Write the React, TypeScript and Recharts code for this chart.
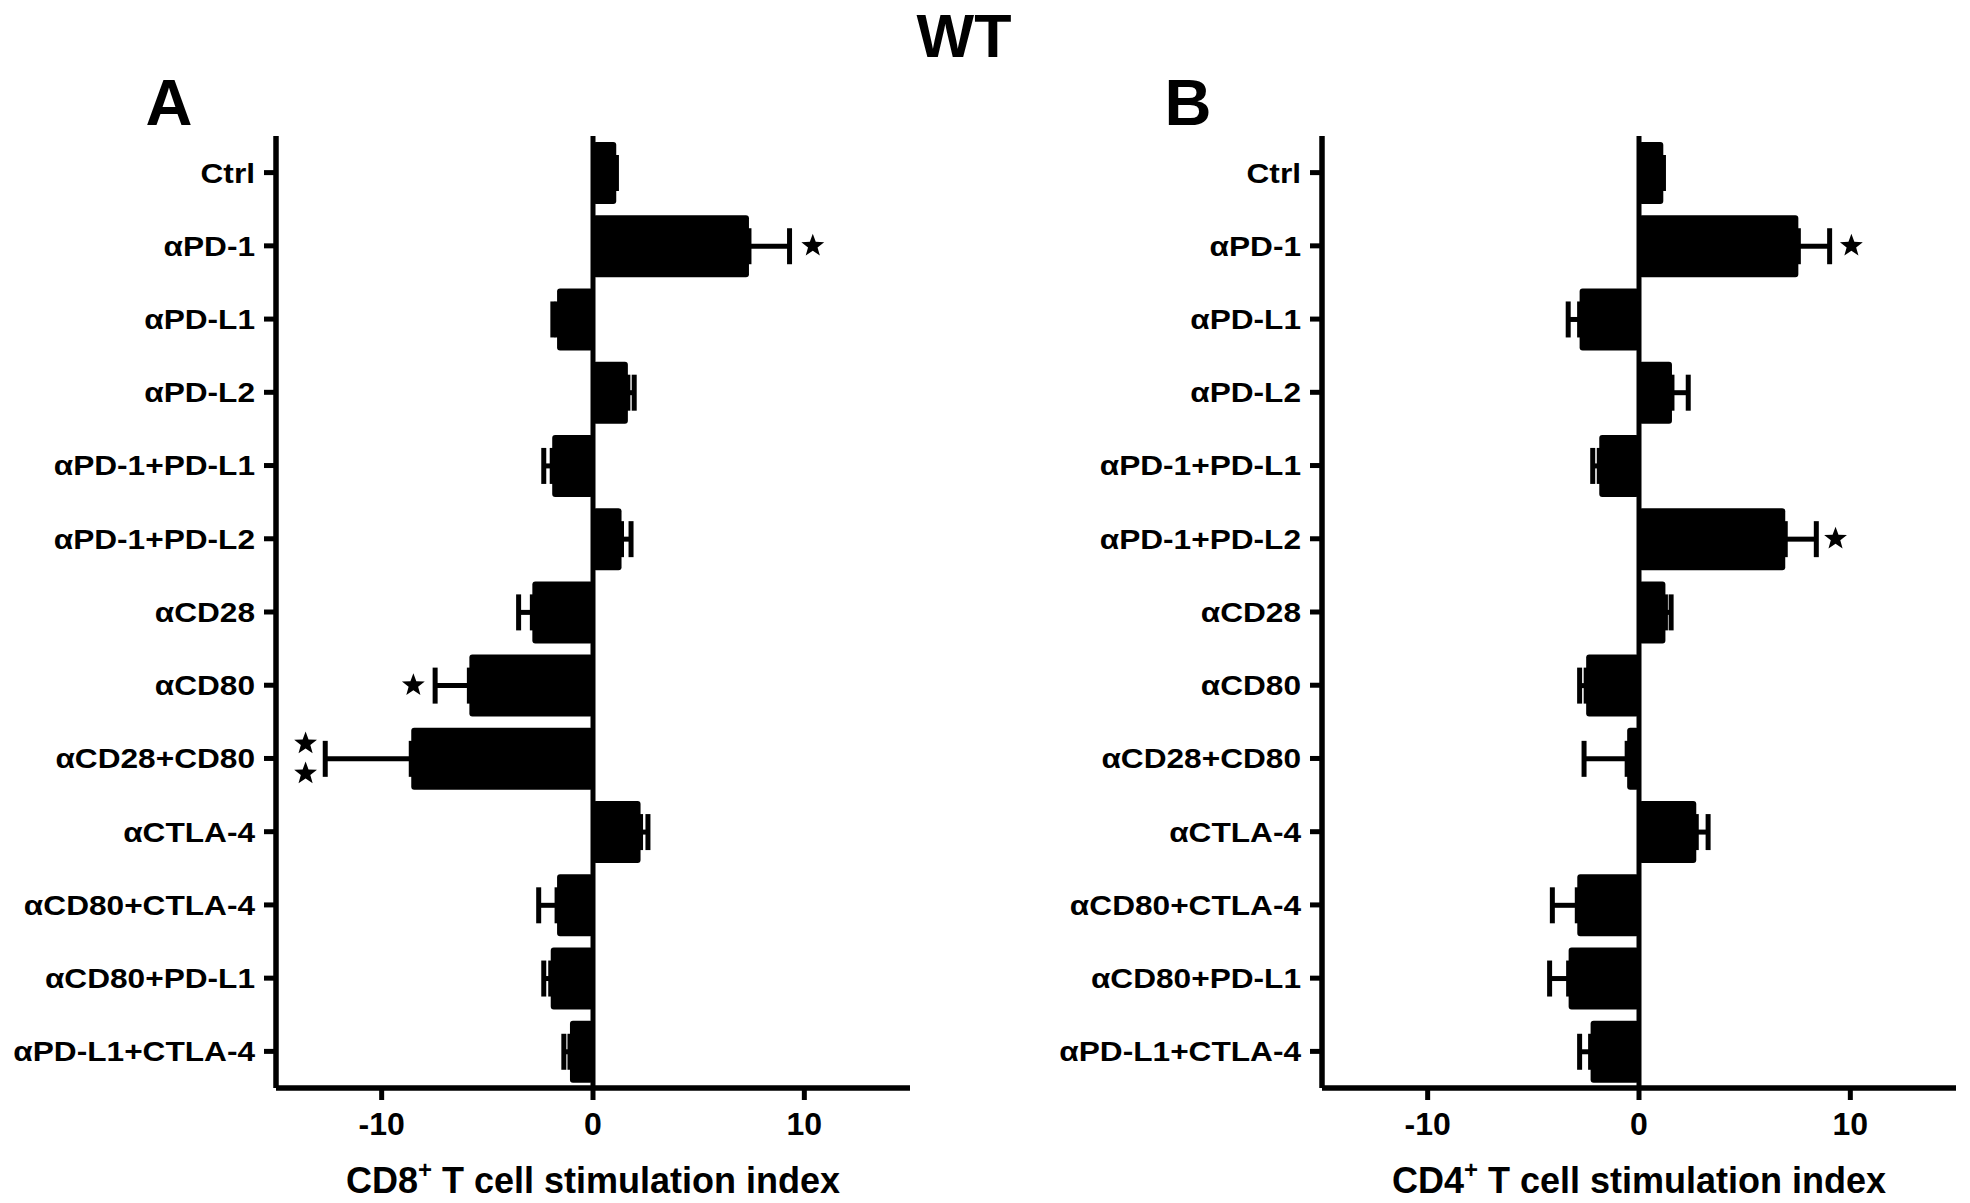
import React from 'react';
import { BarChart, Bar, XAxis, YAxis, ErrorBar, ReferenceLine, ReferenceDot, Label } from 'recharts';

const FONT = '"Liberation Sans", Arial, Helvetica, sans-serif';

const categories = [
  'Ctrl', 'αPD-1', 'αPD-L1', 'αPD-L2', 'αPD-1+PD-L1', 'αPD-1+PD-L2', 'αCD28',
  'αCD80', 'αCD28+CD80', 'αCTLA-4', 'αCD80+CTLA-4', 'αCD80+PD-L1', 'αPD-L1+CTLA-4',
];
const cd8Values = [1.1, 7.38, -1.7, 1.65, -1.93, 1.35, -2.87, -5.85, -8.6, 2.25, -1.7, -2.0, -1.09];
const cd8Errors = [0, 1.92, 0.2, 0.3, 0.4, 0.45, 0.65, 1.62, 4.07, 0.35, 0.87, 0.33, 0.29];
const cd4Values = [1.15, 7.54, -2.81, 1.56, -1.88, 6.92, 1.25, -2.5, -0.56, 2.71, -2.92, -3.33, -2.29];
const cd4Errors = [0, 1.48, 0.54, 0.77, 0.31, 1.47, 0.27, 0.31, 2.04, 0.56, 1.18, 0.9, 0.52];
const xTicks = [-10, 0, 10];
const xDomain = [-15, 15];

const cd8StarCats = ['αPD-1', 'αCD80', 'αCD28+CD80'];
const cd8StarX = [10.4, -8.5, -13.6];
const cd8StarCount = [1, 1, 2];
const cd4StarCats = ['αPD-1', 'αPD-1+PD-L2'];
const cd4StarX = [10.05, 9.3];
const cd4StarCount = [1, 1];

const buildData = (vals: number[], errs: number[]) =>
  categories.map((name, i) => ({
    name,
    value: vals[i],
    err: vals[i] >= 0 ? [0, errs[i]] : [errs[i], 0],
  }));

const buildStars = (cats: string[], xs: number[], ns: number[]) =>
  cats.map((cat, i) => ({ cat, x: xs[i], n: ns[i] }));

const starPath = (cx: number, cy: number, R: number, r: number) => {
  let d = '';
  for (let k = 0; k < 10; k++) {
    const ang = -Math.PI / 2 + (k * Math.PI) / 5;
    const rad = k % 2 === 0 ? R : r;
    const px = cx + rad * Math.cos(ang);
    const py = cy + rad * Math.sin(ang);
    d += (k === 0 ? 'M' : 'L') + px.toFixed(2) + ',' + py.toFixed(2);
  }
  return d + 'Z';
};

const makeStarShape = (n: number) => (props: any) => {
  const { cx, cy } = props;
  if (cx == null || cy == null) return <g />;
  const offs = n === 2 ? [-15, 15] : [0];
  return (
    <g>
      {offs.map((o, i) => (
        <path key={i} d={starPath(cx, cy + o, 12, 5)} fill="#000" />
      ))}
    </g>
  );
};

const YTick = (props: any) => {
  const { x, y, payload } = props;
  return (
    <g transform={`translate(${x},${y})`}>
      <text
        transform="scale(1.15,1)"
        textAnchor="end"
        dy="0.36em"
        fontSize={27.5}
        fontWeight={700}
        fontFamily={FONT}
        fill="#000"
      >
        {payload.value}
      </text>
    </g>
  );
};

const makeTitle = (prefix: string) => (props: any) => {
  const vb = props.viewBox || {};
  const cx = vb.x + vb.width / 2;
  const by = vb.y + 105;
  return (
    <text x={cx} y={by} textAnchor="middle" fontSize={36} fontWeight={700} fontFamily={FONT} fill="#000">
      <tspan>{prefix}</tspan>
      <tspan dy={-15} fontSize={24}>+</tspan>
      <tspan dy={15}> T cell stimulation index</tspan>
    </text>
  );
};

type PanelProps = {
  data: any[];
  stars: { cat: string; x: number; n: number }[];
  prefix: string;
  width: number;
  yAxisWidth: number;
  rightMargin: number;
};

const Panel = ({ data, stars, prefix, width, yAxisWidth, rightMargin }: PanelProps) => (
  <BarChart
    width={width}
    height={1203}
    data={data}
    layout="vertical"
    margin={{ top: 136, right: rightMargin, bottom: 0, left: 0 }}
  >
    <XAxis
      type="number"
      domain={xDomain}
      ticks={xTicks}
      height={115}
      axisLine={{ stroke: '#000', strokeWidth: 5.5 }}
      tickLine={{ stroke: '#000', strokeWidth: 5 }}
      tickSize={12}
      tickMargin={12}
      tick={{ fontSize: 32, fontWeight: 700, fill: '#000', fontFamily: FONT }}
      allowDataOverflow
    >
      <Label content={makeTitle(prefix)} />
    </XAxis>
    <YAxis
      type="category"
      dataKey="name"
      width={yAxisWidth}
      axisLine={{ stroke: '#000', strokeWidth: 5.5 }}
      tickLine={{ stroke: '#000', strokeWidth: 5 }}
      tickSize={12}
      tickMargin={9}
      tick={<YTick />}
      interval={0}
    />
    <Bar dataKey="value" fill="#000" barSize={62} radius={3} isAnimationActive={false}>
      <ErrorBar dataKey="err" direction="x" width={18} strokeWidth={5} stroke="#000" />
    </Bar>
    <ReferenceLine x={0} stroke="#000" strokeWidth={5} />
    {stars.map((s, i) => (
      <ReferenceDot key={i} x={s.x} y={s.cat} r={12} shape={makeStarShape(s.n)} />
    ))}
  </BarChart>
);

export default function App() {
  const dataA = buildData(cd8Values, cd8Errors);
  const dataB = buildData(cd4Values, cd4Errors);
  const starsA = buildStars(cd8StarCats, cd8StarX, cd8StarCount);
  const starsB = buildStars(cd4StarCats, cd4StarX, cd4StarCount);
  return (
    <div style={{ position: 'absolute', left: 0, top: 0, width: 1970, height: 1203, overflow: 'hidden', background: '#fff' }}>
      <div style={{ position: 'absolute', left: 0, top: 0 }}>
        <Panel data={dataA} stars={starsA} prefix="CD8" width={980} yAxisWidth={276} rightMargin={70} />
      </div>
      <div style={{ position: 'absolute', left: 985, top: 0 }}>
        <Panel data={dataB} stars={starsB} prefix="CD4" width={985} yAxisWidth={337} rightMargin={14} />
      </div>
      <svg width={1970} height={1203} style={{ position: 'absolute', left: 0, top: 0, pointerEvents: 'none' }}>
        <text x={964} y={57} textAnchor="middle" fontSize={61} fontWeight={700} fontFamily={FONT} fill="#000">WT</text>
        <text x={169} y={125} textAnchor="middle" fontSize={65} fontWeight={700} fontFamily={FONT} fill="#000">A</text>
        <text x={1188} y={125} textAnchor="middle" fontSize={65} fontWeight={700} fontFamily={FONT} fill="#000">B</text>
      </svg>
    </div>
  );
}
